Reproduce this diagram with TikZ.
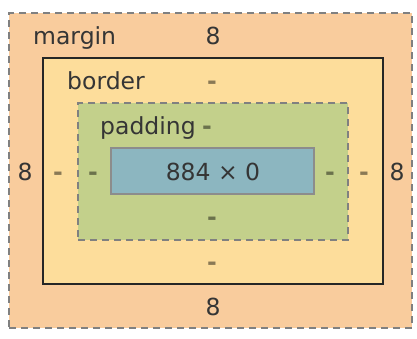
\documentclass[tikz,border=0pt]{standalone}
\usepackage{fontspec}
\setmainfont{DejaVu Sans}
\begin{document}
\begin{tikzpicture}[x=1pt,y=-1pt,
  boxbase/.style={rectangle,anchor=north west,inner sep=0pt,outer sep=0pt},
  marginbox/.style={boxbase,fill=marginc,draw=dashc,line width=1.6pt,dash pattern=on 7pt off 5pt},
  borderbox/.style={boxbase,fill=borderc,draw=black!85,line width=2pt},
  paddingbox/.style={boxbase,fill=paddingc,draw=dashc,line width=1.6pt,dash pattern=on 7pt off 5pt},
  contentbox/.style={boxbase,fill=contentc,draw=black!45,line width=1.2pt},
  lbl/.style={font=\fontsize{23.5}{26}\selectfont,text=textc,inner sep=0pt,anchor=base},
  dsh/.style={font=\bfseries\fontsize{23.5}{26}\selectfont,text=black,text opacity=0.45,inner sep=0pt,anchor=base}]
\definecolor{marginc}{HTML}{F9CC9D}
\definecolor{borderc}{HTML}{FDDD9B}
\definecolor{paddingc}{HTML}{C3D08B}
\definecolor{contentc}{HTML}{8CB6C0}
\definecolor{dashc}{HTML}{808080}
\definecolor{textc}{HTML}{353535}
\useasboundingbox (0,0) rectangle (417,339);
\node[marginbox,minimum width=403pt,minimum height=315pt] (margin) at (9,13) {};
\node[borderbox,minimum width=340pt,minimum height=226pt] (border) at (43,58) {};
\node[paddingbox,minimum width=270pt,minimum height=137pt] (padding) at (78,103) {};
\node[contentbox,minimum width=203pt,minimum height=46pt] (content) at (111,148) {};
\node[lbl,anchor=base west] (tm) at (33,45) {margin};
\node[lbl] (mt) at (213,45) {8};
\node[lbl,anchor=base west] (tb) at (67,90) {border};
\node[dsh] (bt) at (212,90) {-};
\node[lbl,anchor=base west] (tp) at (100,135) {padding};
\node[dsh] (pt) at (207,135) {-};
\node[lbl] (cv) at (213,180) {884 × 0};
\node[lbl] (ml) at (25,180) {8};
\node[dsh] (bl) at (58,180) {-};
\node[dsh] (pl) at (93,180) {-};
\node[dsh] (pr) at (330,180) {-};
\node[dsh] (br) at (364,180) {-};
\node[lbl] (mr) at (397,180) {8};
\node[dsh] (pb) at (212,225) {-};
\node[dsh] (bb) at (212,270) {-};
\node[lbl] (mb) at (213,315) {8};
\end{tikzpicture}
\end{document}
